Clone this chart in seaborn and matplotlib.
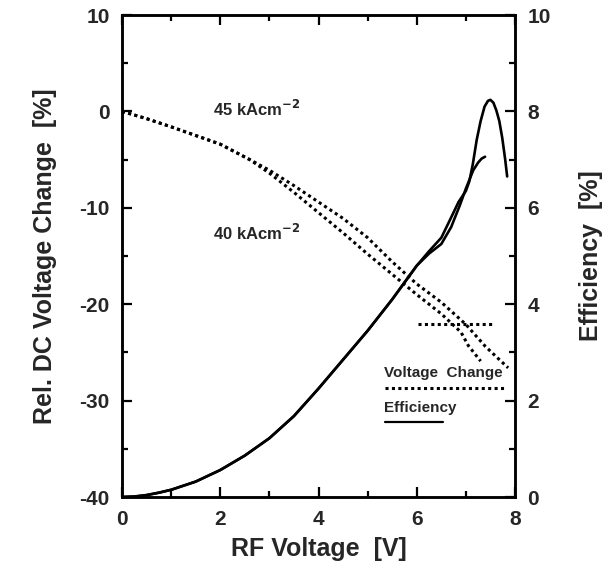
import numpy as np
import pandas as pd
import matplotlib
matplotlib.use('Agg')
import matplotlib.pyplot as plt
from matplotlib.ticker import MultipleLocator
import seaborn as sns

sns.set_theme(style='ticks')
plt.rcParams['font.family'] = ['Liberation Sans', 'DejaVu Sans']
plt.rcParams['axes.unicode_minus'] = False

# relative dc voltage change [%] (left axis), dotted
vc45_x = [0, 0.5, 1.0, 1.5, 2.0, 2.6, 3.0, 3.5, 4.0, 4.5, 5.0, 5.5, 6.0, 6.5, 7.0, 7.4, 7.86]
vc45_y = [0, -0.75, -1.6, -2.5, -3.4, -5.0, -6.1, -7.7, -9.4, -11.1, -13.1, -15.6, -17.9, -19.8, -22.1, -24.4, -26.6]
vc40_x = [0, 0.5, 1.0, 1.5, 2.0, 2.6, 3.0, 3.5, 4.0, 4.5, 5.0, 5.5, 6.0, 6.5, 6.9, 7.05, 7.3]
vc40_y = [0, -0.75, -1.6, -2.5, -3.4, -5.0, -6.4, -8.4, -10.5, -12.6, -14.8, -16.9, -19.0, -21.0, -22.9, -24.3, -25.9]

# efficiency [%] (right axis), solid
eff45_x = [0, 0.25, 0.5, 0.75, 1.0, 1.5, 2.0, 2.5, 3.0, 3.5, 4.0, 4.5, 5.0, 5.5, 5.75, 6.0, 6.25, 6.5,
           6.7, 6.85, 7.0, 7.07, 7.14, 7.22, 7.3, 7.38, 7.45, 7.5, 7.56, 7.62, 7.68, 7.74, 7.8, 7.84]
eff45_y = [0, 0.01, 0.04, 0.09, 0.15, 0.32, 0.56, 0.86, 1.22, 1.68, 2.25, 2.85, 3.45, 4.1, 4.45, 4.8, 5.1, 5.38,
           5.8, 6.12, 6.35, 6.55, 6.9, 7.41, 7.8, 8.1, 8.22, 8.24, 8.18, 8.02, 7.8, 7.45, 7.0, 6.65]
eff40_x = [0, 0.25, 0.5, 0.75, 1.0, 1.5, 2.0, 2.5, 3.0, 3.5, 4.0, 4.5, 5.0, 5.5, 5.75, 6.0, 6.25, 6.5,
           6.7, 6.88, 7.0, 7.15, 7.25, 7.32, 7.39]
eff40_y = [0, 0.01, 0.04, 0.09, 0.15, 0.32, 0.56, 0.86, 1.22, 1.68, 2.25, 2.85, 3.45, 4.1, 4.45, 4.8, 5.05, 5.25,
           5.6, 6.06, 6.4, 6.78, 6.94, 7.02, 7.06]

# horizontal dotted reference segment
ref_x = [6.03, 7.53]
ref_y = [-22.05, -22.05]

dot = (0, (1, 1.1))
lbl = dict(fontsize=18, fontweight='bold')

fig = plt.figure(figsize=(6.14, 5.77), dpi=100)
ax = fig.add_axes([0.1987, 0.1386, 0.6401, 0.8354])
ax2 = ax.twinx()

for xs, ys in [(vc45_x, vc45_y), (vc40_x, vc40_y), (ref_x, ref_y)]:
    sns.lineplot(x=xs, y=ys, ax=ax, color='black', lw=2.2, sort=False,
                 estimator=None, linestyle=dot, dash_capstyle='butt')
for xs, ys in [(eff45_x, eff45_y), (eff40_x, eff40_y)]:
    sns.lineplot(x=xs, y=ys, ax=ax2, color='black', lw=1.9, sort=False, estimator=None)

ax.set_xlim(0, 8)
ax.set_ylim(-40, 10)
ax2.set_ylim(0, 10)
ax.xaxis.set_major_locator(MultipleLocator(2))
ax.xaxis.set_minor_locator(MultipleLocator(1))
ax.yaxis.set_major_locator(MultipleLocator(10))
ax.yaxis.set_minor_locator(MultipleLocator(5))
ax2.yaxis.set_major_locator(MultipleLocator(2))
ax2.yaxis.set_minor_locator(MultipleLocator(1))

ax.tick_params(which='both', direction='in', top=True, width=1.6, color='black')
ax.tick_params(which='major', length=7, labelsize=15, pad=9)
ax.tick_params(which='minor', length=4)
ax2.tick_params(which='both', direction='in', width=1.6, color='black')
ax2.tick_params(which='major', length=7, labelsize=15, pad=9)
ax2.tick_params(which='minor', length=4)
for a in (ax, ax2):
    for lab in a.get_xticklabels() + a.get_yticklabels():
        lab.set_fontweight('bold')
    for s in a.spines.values():
        s.set_linewidth(1.8)
        s.set_color('black')

ax.set_xlabel('RF Voltage  [V]', labelpad=6, **lbl)
ax.set_ylabel('Rel. DC Voltage Change  [%]', labelpad=16, **lbl)
ax2.set_ylabel('Efficiency  [%]', labelpad=20, **lbl)

ax.text(1.85, 0.3, '45 kAcm$^{\\mathbf{-2}}$', fontsize=12, fontweight='bold', va='center')
ax.text(1.85, -12.6, '40 kAcm$^{\\mathbf{-2}}$', fontsize=12, fontweight='bold', va='center')

# legend-like labels with lines underneath
ax.text(5.33, -27.9, 'Voltage  Change', fontsize=11, fontweight='bold', va='bottom')
ax.plot([5.36, 7.8], [-28.7, -28.7], color='black', lw=2.2, linestyle=dot, dash_capstyle='butt')
ax.text(5.33, -31.5, 'Efficiency', fontsize=11, fontweight='bold', va='bottom')
ax.plot([5.36, 6.54], [-32.2, -32.2], color='black', lw=1.6)

fig.savefig('out.png', dpi=100)
